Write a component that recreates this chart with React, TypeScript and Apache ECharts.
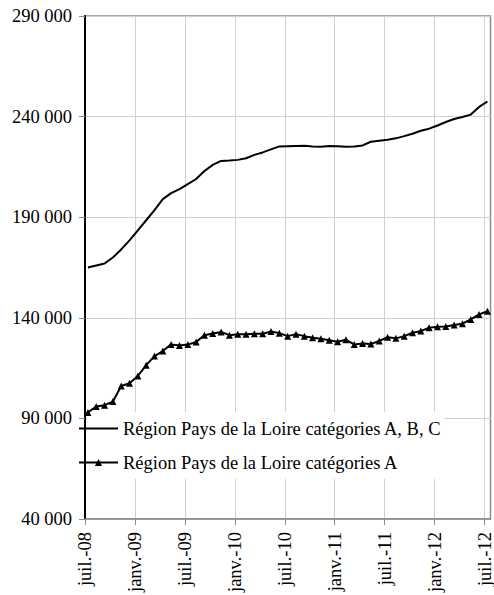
import React, { useEffect, useRef } from 'react';
import * as echarts from 'echarts';

const tickLabels = ['juil.-08', 'janv.-09', 'juil.-09', 'janv.-10', 'juil.-10', 'janv.-11', 'juil.-11', 'janv.-12', 'juil.-12'];
const seriesNames = ['Région Pays de la Loire catégories A, B, C', 'Région Pays de la Loire catégories A'];

// Monthly values, juil.-08 .. juil.-12 (49 months)
const catABC = [
  165000, 166000, 167000, 170000, 174000, 178500, 183500, 188500, 193500, 199000,
  202000, 204000, 206500, 209000, 213000, 216000, 218000, 218200, 218500, 219300,
  221000, 222200, 223700, 225200, 225300, 225400, 225500, 225200, 225000, 225400,
  225300, 225000, 225200, 225700, 227500, 228000, 228500, 229200, 230300, 231500,
  233000, 234000, 235600, 237300, 238800, 239800, 241000, 244800, 247500,
];
const catA = [
  93000, 95900, 96600, 98400, 106100, 107500, 111100, 116500, 121000, 123500,
  126800, 126300, 126700, 128000, 131400, 132200, 133000, 131400, 131900, 131900,
  132100, 132100, 133200, 132400, 130900, 131900, 130900, 130100, 129600, 128900,
  128100, 129100, 126800, 127300, 127000, 128500, 130400, 129800, 130900, 132600,
  133400, 135100, 135600, 135700, 136400, 137100, 139200, 141700, 143300,
];

const DAY_OFFSET = 0.35; // data dated ~10th of each month
const FONT = 'Liberation Serif';
const FS = 18.5;
const tickValues = tickLabels.map((_, i) => i * 6);

const fmt = (v: number) => String(v).replace(/\B(?=(\d{3})+(?!\d))/g, ' ');

export default function App() {
  const ref = useRef<HTMLDivElement>(null);
  useEffect(() => {
    const chart = echarts.init(ref.current!, undefined, { renderer: 'svg' });
    chart.setOption({
      animation: false,
      textStyle: { fontFamily: FONT },
      grid: {
        left: 85, right: 3, top: 16, bottom: 75,
        show: true, borderColor: '#8a8a8a', borderWidth: 1.5, backgroundColor: 'transparent',
      },
      legend: {
        orient: 'vertical',
        left: 78,
        top: 419,
        padding: 0,
        itemWidth: 39,
        itemHeight: 9,
        itemGap: 15,
        textStyle: { fontFamily: FONT, fontSize: FS, color: '#000' },
        data: [
          { name: seriesNames[0], itemStyle: { opacity: 0 } },
          { name: seriesNames[1] },
        ],
      },
      graphic: [
        {
          type: 'rect',
          z: 1,
          shape: { x: 87, y: 412, width: 357, height: 67 },
          style: { fill: '#fff' },
        },
      ],
      xAxis: {
        type: 'value',
        min: 0,
        max: 48.72,
        interval: 6,
        axisLine: { show: true, lineStyle: { color: '#8a8a8a', width: 1.5 } },
        axisTick: { show: true, length: 6, lineStyle: { color: '#8a8a8a' }, customValues: tickValues },
        splitLine: { show: true, lineStyle: { color: '#d0d0d0', width: 1 } },
        axisLabel: {
          customValues: tickValues,
          rotate: 90,
          margin: 13,
          fontFamily: FONT,
          fontSize: FS,
          color: '#000',
          formatter: (v: number) => tickLabels[Math.round(v / 6)] ?? '',
        },
      },
      yAxis: {
        type: 'value',
        min: 40000,
        max: 290000,
        interval: 50000,
        axisLine: { show: true, lineStyle: { color: '#000', width: 2 } },
        axisTick: { show: true, length: 6, lineStyle: { color: '#8a8a8a' } },
        splitLine: { show: true, lineStyle: { color: '#d0d0d0', width: 1 } },
        axisLabel: {
          margin: 13,
          fontFamily: FONT,
          fontSize: FS,
          color: '#000',
          formatter: (v: number) => fmt(v),
        },
      },
      series: [
        {
          name: seriesNames[0],
          type: 'line',
          symbol: 'none',
          lineStyle: { color: '#000', width: 2 },
          itemStyle: { color: '#000' },
          data: catABC.map((v, i) => [i + DAY_OFFSET, v]),
        },
        {
          name: seriesNames[1],
          type: 'line',
          symbol: 'triangle',
          symbolSize: 7,
          lineStyle: { color: '#000', width: 2 },
          itemStyle: { color: '#000' },
          data: catA.map((v, i) => [i + DAY_OFFSET, v]),
        },
      ],
    });
    return () => chart.dispose();
  }, []);
  return <div ref={ref} style={{ width: 494, height: 595, position: 'absolute', left: 0, top: 0 }} />;
}
